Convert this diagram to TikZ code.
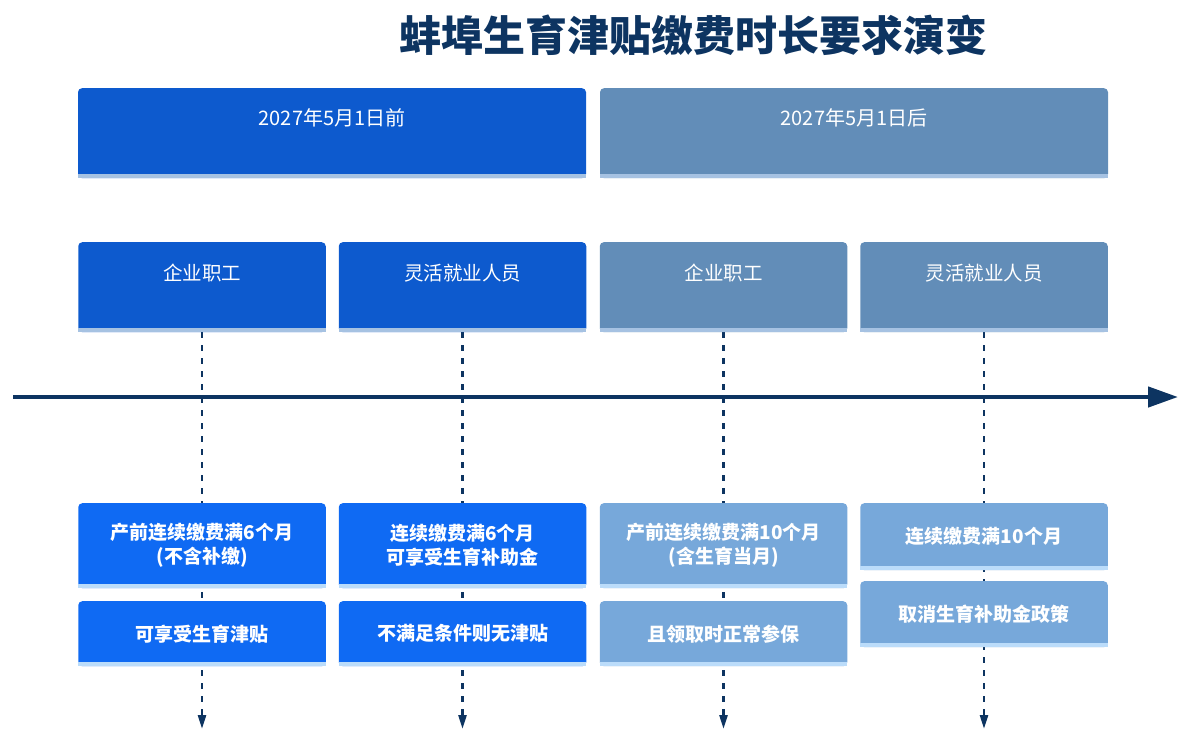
\documentclass[tikz,border=0pt]{standalone}
\usepackage{fontspec}
\setmainfont{Noto Sans CJK SC}
\usetikzlibrary{arrows.meta,backgrounds}

% Farben
\definecolor{navy}{HTML}{0D3461}
\definecolor{deepblue}{HTML}{0D5ACE}
\definecolor{steelblue}{HTML}{628DB8}
\definecolor{brightblue}{HTML}{0F6AF3}
\definecolor{softblue}{HTML}{77A8DA}
\definecolor{stripgray}{HTML}{A6C2E2}
\definecolor{striplight}{HTML}{BBDCFA}

\begin{document}
\begin{tikzpicture}[x=1pt, y=-1pt,
    box/.style={rectangle, rounded corners=4pt, inner xsep=0pt, inner ysep=0pt,
        text=white, font=\fontsize{19.5}{24}\selectfont},
    headbox/.style={box, anchor=north, minimum width=508pt, text height=37pt, text depth=53pt,
        font=\fontsize{20}{24}\selectfont},
    groupbox/.style={box, anchor=north, minimum width=247.5pt, text height=38pt, text depth=52pt},
    condbox/.style={box, anchor=north, minimum width=247.5pt, align=center,
        font=\bfseries\fontsize{19}{24}\selectfont},
    drop/.style={navy, line width=2.5pt, dash pattern=on 6pt off 7pt,
        -{Triangle[length=14pt,width=8pt]}},
    axis/.style={navy, line width=4.5pt, -{Triangle[length=30pt,width=20pt]}}
]
    \useasboundingbox (0,0) rectangle (1187,742);

    % Titel
    \node[text=navy, font=\bfseries\fontsize{42}{42}\selectfont] (title) at (693,35) {蚌埠生育津贴缴费时长要求演变};

    % Zeitabschnitte
    \node[headbox, fill=deepblue] (pre) at (332,88) {2027年5月1日前};
    \node[headbox, fill=steelblue] (post) at (854,88) {2027年5月1日后};

    % Gruppen
    \node[groupbox, fill=deepblue] (g1) at (202,242) {企业职工};
    \node[groupbox, fill=deepblue] (g2) at (462.5,242) {灵活就业人员};
    \node[groupbox, fill=steelblue] (g3) at (723.5,242) {企业职工};
    \node[groupbox, fill=steelblue] (g4) at (984,242) {灵活就业人员};

    % Bedingungen
    \node[condbox, fill=brightblue, minimum height=85pt] (c1) at (202,503) {产前连续缴费满6个月\\(不含补缴)};
    \node[condbox, fill=brightblue, minimum height=85pt] (c2) at (462.5,503) {连续缴费满6个月\\可享受生育补助金};
    \node[condbox, fill=softblue, minimum height=85pt] (c3) at (723.5,503) {产前连续缴费满10个月\\(含生育当月)};
    \node[condbox, fill=softblue, minimum height=67pt] (c4) at (984,503) {连续缴费满10个月};

    \node[condbox, fill=brightblue, minimum height=65pt] (d1) at (202,601) {可享受生育津贴};
    \node[condbox, fill=brightblue, minimum height=65pt] (d2) at (462.5,601) {不满足条件则无津贴};
    \node[condbox, fill=softblue, minimum height=65pt] (d3) at (723.5,601) {且领取时正常参保};
    \node[condbox, fill=softblue, minimum height=66pt] (d4) at (984,581) {取消生育补助金政策};

    % Streifen unten
    \foreach \n in {pre,post,g1,g2,g3,g4}
        \fill[stripgray] ([yshift=4pt]\n.south west) rectangle (\n.south east);
    \foreach \n in {c1,c2,c3,c4,d1,d2,d3,d4}
        \fill[striplight] ([yshift=4pt]\n.south west) rectangle (\n.south east);

    % Zeitachse
    \coordinate (ax1) at (13,397);
    \coordinate (ax2) at (1178,397);
    \draw[axis] (ax1) -- (ax2);

    % Pfeile nach unten
    \coordinate (e1) at (202,729);
    \coordinate (e2) at (462.5,729);
    \coordinate (e3) at (723.5,729);
    \coordinate (e4) at (984,729);
    \begin{scope}[on background layer]
        \foreach \n/\e in {g1/e1,g2/e2,g3/e3,g4/e4}
            \draw[drop] (\n.south) -- (\e);
    \end{scope}

\end{tikzpicture}
\end{document}
